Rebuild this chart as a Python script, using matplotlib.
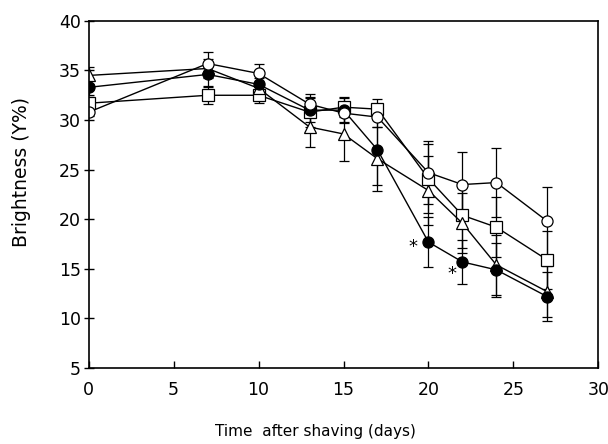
import numpy as np
from matplotlib import pyplot as plt

days = [0, 7, 10, 13, 15, 17, 20, 22, 24, 27]

open_circle = [30.8, 35.7, 34.7, 31.6, 30.7, 30.3, 24.7, 23.5, 23.7, 19.8]
open_circle_err = [0.4, 1.2, 1.0, 1.0, 1.0, 1.0, 3.2, 3.3, 3.5, 3.5]

filled_circle = [33.3, 34.6, 33.6, 31.0, 31.0, 27.0, 17.7, 15.7, 14.9, 12.2]
filled_circle_err = [0.8, 1.3, 1.0, 1.2, 1.2, 3.5, 2.5, 2.2, 2.7, 2.5]

open_square = [31.7, 32.5, 32.5, 30.8, 31.3, 31.1, 24.1, 20.4, 19.2, 15.9]
open_square_err = [0.6, 0.9, 0.8, 1.5, 1.0, 1.0, 3.5, 3.3, 3.0, 2.9]

triangle = [34.5, 35.2, 33.2, 29.3, 28.6, 26.1, 22.9, 19.6, 15.4, 12.7]
triangle_err = [0.9, 1.0, 1.0, 2.0, 2.7, 3.2, 3.5, 3.0, 3.0, 2.6]

stars = [(19.1, 17.2), (21.4, 14.5)]

plt.rcParams['font.family'] = ['DejaVu Sans']

fig = plt.figure(figsize=(6.08, 4.44), dpi=100)
ax = fig.add_axes([0.146, 0.171, 0.838, 0.782])

series = [
    (open_square, open_square_err, 's', 'white'),
    (triangle, triangle_err, '^', 'white'),
    (filled_circle, filled_circle_err, 'o', 'black'),
    (open_circle, open_circle_err, 'o', 'white'),
]
for vals, err, mk, fc in series:
    ax.errorbar(days, vals, yerr=err, fmt='-', color='black', lw=1.0,
                marker=mk, markersize=8, markerfacecolor=fc,
                markeredgecolor='black', markeredgewidth=0.9,
                ecolor='black', elinewidth=0.9, capsize=3.5, capthick=0.9)

for sx, sy in stars:
    ax.text(sx, sy, '*', fontsize=13, ha='center', va='center')

ax.set_xlim(0, 30)
ax.set_ylim(5, 40)
ax.set_xticks(np.arange(0, 31, 5))
ax.set_yticks(np.arange(5, 41, 5))
ax.tick_params(axis='x', direction='in', length=5, width=1, labelsize=12.5, pad=9)
ax.tick_params(axis='y', direction='inout', length=7, width=1, labelsize=12.5, pad=2)
for s in ax.spines.values():
    s.set_linewidth(1.2)
ax.set_xlabel('Time  after shaving (days)', fontsize=11, va='center')
ax.set_ylabel('Brightness (Y%)', fontsize=13.5, va='center')
ax.xaxis.set_label_coords(0.444, -0.184)
ax.yaxis.set_label_coords(-0.132, 0.565)

fig.savefig('out.png', dpi=100)
